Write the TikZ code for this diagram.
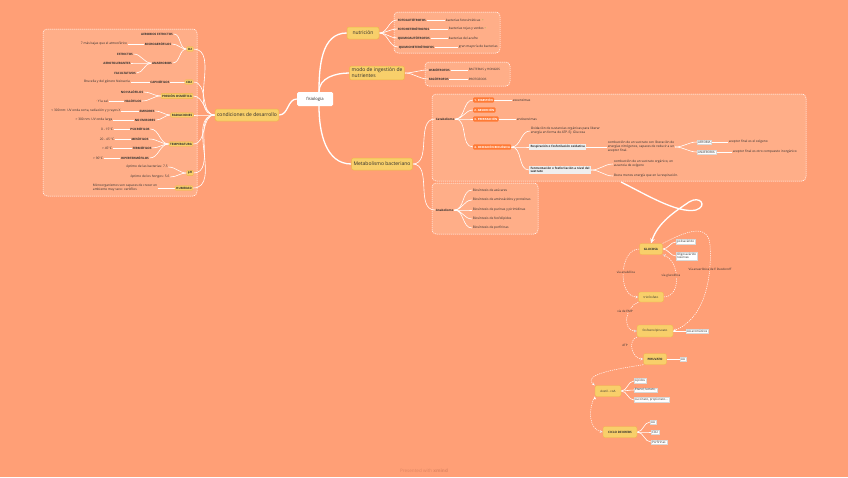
\documentclass[tikz,border=0pt]{standalone}
\usepackage{fontspec}
\setmainfont{Open Sans}
\usetikzlibrary{positioning, arrows.meta}
\definecolor{bgcol}{HTML}{FF9F76}
\definecolor{boxfill}{HTML}{FFAE88}
\definecolor{ymain}{HTML}{F8CF6A}
\definecolor{yedge}{HTML}{EFB64A}
\definecolor{orng}{HTML}{FF7A35}
\definecolor{grey}{HTML}{EFEFEF}
\definecolor{lgrey}{HTML}{D8D8D8}
\definecolor{txt}{HTML}{2E2E2E}
\definecolor{grn}{HTML}{3FAE3F}
\definecolor{footcol}{HTML}{DF8662}
\pgfdeclarelayer{back}
\pgfsetlayers{back,main}
\tikzset{
    topic/.style={
        fill=white,
        rounded corners=1.5pt,
        minimum width=36pt,
        minimum height=14pt,
        inner sep=1pt,
        text=txt,
        font=\fontsize{4.2pt}{5pt}\selectfont
    },
    mainbr/.style={
        fill=ymain,
        draw=yedge,
        line width=0.5pt,
        rounded corners=2pt,
        inner sep=2pt,
        minimum height=12pt,
        align=left,
        text=txt,
        font=\fontsize{5pt}{6pt}\selectfont
    },
    subbr/.style={fill=ymain, draw=yedge, line width=0.3pt, rounded corners=1pt, inner sep=1.2pt, text=txt, font=\fontsize{3pt}{3.5pt}\selectfont\bfseries},
    leaf/.style={inner sep=0.6pt, text=txt, align=left, font=\fontsize{3.2pt}{3.9pt}\selectfont},
    capleaf/.style={inner sep=0.6pt, text=txt, font=\fontsize{3pt}{3.6pt}\selectfont\bfseries},
    stepnode/.style={fill=orng, rounded corners=1pt, inner sep=1.2pt, text=white, font=\fontsize{2.8pt}{3.4pt}\selectfont\bfseries},
    greybox/.style={fill=grey, inner sep=1.3pt, align=left, text=txt, font=\fontsize{3pt}{3.7pt}\selectfont\bfseries},
    whitebox/.style={fill=white, draw=lgrey, line width=0.2pt, inner sep=1pt, align=left, text=txt, font=\fontsize{3pt}{3.7pt}\selectfont},
    dashbox/.style={draw=white, fill=boxfill, dash pattern=on 1.2pt off 0.8pt, line width=0.5pt, rounded corners=4pt},
    trunk/.style={draw=white, line width=1.3pt},
    branch/.style={draw=white, line width=0.6pt},
    flow/.style={draw=white, line width=0.5pt, dash pattern=on 1.2pt off 1pt, -{Stealth[length=3pt, width=2.6pt]}},
    flowlabel/.style={fill=bgcol, inner sep=0.5pt, text=txt, font=\fontsize{3pt}{3.6pt}\selectfont}
}

\begin{document}
\begin{tikzpicture}[x=1pt, y=-1pt]
    % Background and groups
    \begin{pgfonlayer}{back}
        \fill [bgcol] (0,0) rectangle (848,477);
        \draw [dashbox] (43,29) rectangle (197,196);
        \draw [dashbox] (394,12) rectangle (500,53);
        \draw [dashbox] (425,62) rectangle (510,86);
        \draw [dashbox] (432,94) rectangle (806,181);
        \draw [dashbox] (432,183) rectangle (538,234);
    \end{pgfonlayer}
    \useasboundingbox (0,0) rectangle (848,477);

    % Central topics
    \node (fisio) [
        topic
    ] at (315,99) {fisiologia};
    \node (condic) [
        mainbr
    ] at (247,115) {condiciones de desarrollo};
    \node (nutri) [
        mainbr,
        minimum width=32pt
    ] at (363,33) {nutrición};
    \node (modo) [
        mainbr
    ] at (377,73) {modo de ingestión de\\nutrientes};
    \node (metab) [
        mainbr
    ] at (382,164) {Metabolismo bacteriano};

    % Condiciones de desarrollo
    \node (oxig) [subbr] at (190,49) {O2};
    \node (aerob) [capleaf] at (157,34) {AEROBIOS ESTRICTOS};
    \node (micro) [capleaf] at (158,44) {MICROAERÓFILOS};
    \node (microtxt) [leaf] at (104,44) {7 más bajas que el atmosférico};
    \node (anaer) [capleaf] at (162,63) {ANAEROBIOS};
    \node (estr) [capleaf] at (125,54) {ESTRICTOS};
    \node (aerot) [capleaf] at (117,63) {AEROTOLERANTES};
    \node (facult) [capleaf] at (125,73) {FACULTATIVOS};
    \node (co2) [subbr] at (189,82) {CO2};
    \node (capno) [capleaf] at (160,82) {CAPNÓFILOS};
    \node (capnotxt) [leaf] at (107,82) {Brucella y del género Neisseria};
    \node (presion) [subbr] at (177,96) {PRESIÓN OSMÓTICA};
    \node (nohalo) [capleaf] at (132,92) {NO HALÓFILOS};
    \node (halo) [capleaf] at (133,101) {HALÓFILOS};
    \node (halotxt) [leaf] at (102,101) {\textcolor{orng}{\textbullet}\,Y la sal};
    \node (radia) [subbr] at (182,115) {RADIACIONES};
    \node (emis) [capleaf] at (147,111) {EMISORES};
    \node (emistxt) [leaf] at (86,111) {< 300 nm: UV onda corta, radiación γ y rayos X};
    \node (noemis) [capleaf] at (145,120) {NO EMISORES};
    \node (noemistxt) [leaf] at (94,120) {> 300 nm: UV onda larga};
    \node (temp) [subbr] at (181,144) {TEMPERATURA};
    \node (psicro) [capleaf] at (140,129) {PSICRÓFILOS};
    \node (psicrotxt) [leaf] at (107,129) {0 - 15°C};
    \node (meso) [capleaf] at (140,139) {MESÓFILOS};
    \node (mesotxt) [leaf] at (107,139) {20 - 45 °C};
    \node (termo) [capleaf] at (142,148) {TERMÓFILOS};
    \node (termotxt) [leaf] at (107,148) {> 45°C};
    \node (hiper) [capleaf] at (135,158) {HIPERTERMÓFILOS};
    \node (hipertxt) [leaf] at (98,158) {> 90°C};
    \node (ph) [subbr] at (190,173) {pH};
    \node (phbact) [leaf] at (147,167) {óptimo de las bacterias: 7.5};
    \node (phhong) [leaf] at (150,177) {óptimo de los hongos: 5-6};
    \node (humed) [subbr] at (184,188) {HUMEDAD};
    \node (humtxt) [leaf] at (125,188) {Microorganismos son capaces de crecer en\\ambiente muy seco: xerófilos};

    % Nutricion
    \node (fotoaut) [capleaf, anchor=west] at (397,20) {FOTOAUTÓTROFOS};
    \node (fotoauttxt) [leaf, anchor=west] at (445,20) {bacterias fotosintéticas \textcolor{ymain}{\textbullet}\textcolor{grn}{\textbullet}};
    \node (fotohet) [capleaf, anchor=west] at (397,29) {FOTOHETERÓTROFOS};
    \node (fotohettxt) [leaf, anchor=west] at (448,29) {bacterias rojas y verdes \textcolor{grn}{\textbullet}\textcolor{ymain}{\textbullet}};
    \node (quimaut) [capleaf, anchor=west] at (397,38) {QUIMIOAUTÓTROFOS};
    \node (quimauttxt) [leaf, anchor=west] at (448,38) {bacterias del azufre \textcolor{ymain}{\textbullet}};
    \node (quimhet) [capleaf, anchor=west] at (398,47) {QUIMIOHETERÓTROFOS};
    \node (quimhettxt) [leaf, anchor=west] at (458,47) {gran mayoría de bacterias};

    % Modo de ingestion
    \node (osmo) [capleaf, anchor=west] at (428,70) {OSMÓTROFOS};
    \node (osmotxt) [capleaf, font=\fontsize{3pt}{3.6pt}\selectfont, anchor=west] at (468,70) {BACTERIAS y HONGOS};
    \node (fago) [capleaf, anchor=west] at (428,79) {FAGÓTROFOS};
    \node (fagotxt) [capleaf, font=\fontsize{3pt}{3.6pt}\selectfont, anchor=west] at (468,79) {PROTOZOOS};

    % Catabolismo
    \node (catab) [capleaf, anchor=west] at (435,119) {Catabolismo};
    \node (dig) [stepnode, anchor=west] at (473,100) {1. DIGESTIÓN};
    \node (digtxt) [leaf, anchor=west] at (512,100) {exoenzimas};
    \node (abs) [stepnode, anchor=west] at (473,110) {2. ABSORCIÓN};
    \node (prep) [stepnode, anchor=west] at (473,119) {3. PREPARACIÓN};
    \node (preptxt) [leaf, anchor=west] at (516,119) {endoenzimas};
    \node (oxid) [stepnode, anchor=west] at (473,147) {4. OXIDACIÓN BIOLÓGICA};
    \node (oxidtxt) [leaf, anchor=west] at (530,131) {Oxidación de sustancias orgánicas para liberar\\energía en forma de ATP. Ej: Glucosa};
    \node (resp) [greybox, anchor=west] at (529,147) {Respiración o fosforilación oxidativa};
    \node (resptxt) [leaf, anchor=west] at (607,147) {combustión de un sustrato con liberación de\\energías nitrógenos, capaces de reducir a un\\aceptor final.};
    \node (aerobia) [whitebox, anchor=west] at (697,142) {AEROBIA};
    \node (aerobiatxt) [leaf, anchor=west] at (728,142) {aceptor final es el oxígeno};
    \node (anaerobia) [whitebox, anchor=west] at (697,152) {ANAEROBIA};
    \node (anaerobiatxt) [leaf, anchor=west] at (732,152) {aceptor final es otro compuesto inorgánico};
    \node (ferm) [greybox, anchor=west] at (529,170) {Fermentación o fosforilación a nivel del\\sustrato};
    \node (fermtxt) [leaf, anchor=west] at (613,164) {combustión de un sustrato orgánico, en\\ausencia de oxígeno};
    \node (fermtxtb) [leaf, anchor=west] at (613,176) {libera menos energía que en la respiración.};

    % Anabolismo
    \node (anab) [capleaf, anchor=west] at (435,210) {Anabolismo};
    \node (bioa) [leaf, anchor=west] at (472,190) {Biosíntesis de azúcares};
    \node (biob) [leaf, anchor=west] at (472,200) {Biosíntesis de aminoácidos y proteínas};
    \node (bioc) [leaf, anchor=west] at (472,210) {Biosíntesis de purinas y pirimidinas};
    \node (biod) [leaf, anchor=west] at (472,219) {Biosíntesis de fosfolípidos};
    \node (bioe) [leaf, anchor=west] at (472,228) {Biosíntesis de porfirinas};

    % Ruta de la glucosa
    \node (gluc) [subbr, minimum width=23pt, minimum height=11pt, rounded corners=2pt] at (651,249) {GLUCOSA};
    \node (polis) [whitebox, anchor=west] at (676,242) {polisacárido};
    \node (oligo) [whitebox, anchor=west] at (676,256) {Oligosacárido\\reservas};
    \node (trio) [subbr, font=\fontsize{3pt}{3.5pt}\selectfont, minimum width=25pt, minimum height=10pt, rounded corners=2pt] at (651,297) {triofosfato};
    \node (fosfo) [subbr, font=\fontsize{3pt}{3.5pt}\selectfont, minimum width=36pt, minimum height=12pt, rounded corners=2pt] at (655,331) {fosfoenolpiruvato};
    \node (aaarom) [whitebox, anchor=west] at (686,331) {AA aromáticos};
    \node (piru) [subbr, minimum width=23pt, minimum height=11pt, rounded corners=2pt] at (655,359) {PIRUVATO};
    \node (aaa) [whitebox, anchor=west] at (680,359) {AA};
    \node (acetil) [subbr, font=\fontsize{3pt}{3.5pt}\selectfont, minimum width=26pt, minimum height=11pt, rounded corners=2pt] at (608,391) {Acetil - coA};
    \node (lip) [whitebox, anchor=west] at (634,381) {Lípidos};
    \node (etan) [whitebox, anchor=west] at (634,390) {Etanol, lactato,};
    \node (succ) [whitebox, anchor=west] at (634,400) {succinato, propionato...};
    \node (krebs) [subbr, minimum width=34pt, minimum height=11pt, rounded corners=2pt] at (620,432) {CICLO DE KREBS};
    \node (aab) [whitebox, anchor=west] at (650,422) {AA};
    \node (cok) [whitebox, anchor=west] at (651,432) {CO2};
    \node (porf) [whitebox, anchor=west] at (651,442) {Porfirinas};
    \coordinate (catbot) at (621,182);

    % Presented with
    \node (foot) [text=footcol, font=\fontsize{4.6pt}{5pt}\selectfont] at (424,471) {Presented with \textbf{xmind}};

    \begin{pgfonlayer}{back}
        % Main branches
        \path [trunk]
            (fisio.west) edge [out=180, in=0] (condic.east)
            ([xshift=4pt]fisio.north) edge [out=90, in=180] (nutri.west)
            ([xshift=4pt]fisio.north) edge [out=90, in=180] (modo.west)
            ([xshift=4pt]fisio.south) edge [out=-90, in=180] (metab.west)
        ;

        % Condiciones de desarrollo
        \path [branch]
            (condic.west) edge [out=180, in=0] (oxig.east)
            (condic.west) edge [out=180, in=0] (co2.east)
            (condic.west) edge [out=180, in=0] (presion.east)
            (condic.west) edge [out=180, in=0] (radia.east)
            (condic.west) edge [out=180, in=0] (temp.east)
            (condic.west) edge [out=180, in=0] (ph.east)
            (condic.west) edge [out=180, in=0] (humed.east)
            (oxig.west) edge [out=180, in=0] (aerob.east)
            (oxig.west) edge [out=180, in=0] (micro.east)
            (oxig.west) edge [out=180, in=0] (anaer.east)
            (micro.west) edge (microtxt.east)
            (anaer.west) edge [out=180, in=0] (estr.east)
            (anaer.west) edge [out=180, in=0] (aerot.east)
            (anaer.west) edge [out=180, in=0] (facult.east)
            (co2.west) edge (capno.east)
            (capno.west) edge (capnotxt.east)
            (presion.west) edge [out=180, in=0] (nohalo.east)
            (presion.west) edge [out=180, in=0] (halo.east)
            (halo.west) edge (halotxt.east)
            (radia.west) edge [out=180, in=0] (emis.east)
            (radia.west) edge [out=180, in=0] (noemis.east)
            (emis.west) edge (emistxt.east)
            (noemis.west) edge (noemistxt.east)
            (temp.west) edge [out=180, in=0] (psicro.east)
            (temp.west) edge [out=180, in=0] (meso.east)
            (temp.west) edge [out=180, in=0] (termo.east)
            (temp.west) edge [out=180, in=0] (hiper.east)
            (psicro.west) edge (psicrotxt.east)
            (meso.west) edge (mesotxt.east)
            (termo.west) edge (termotxt.east)
            (hiper.west) edge (hipertxt.east)
            (ph.west) edge [out=180, in=0] (phbact.east)
            (ph.west) edge [out=180, in=0] (phhong.east)
            (humed.west) edge (humtxt.east)
        ;

        % Nutricion and ingestion
        \path [branch]
            (nutri.east) edge [out=0, in=180] (fotoaut.west)
            (nutri.east) edge [out=0, in=180] (fotohet.west)
            (nutri.east) edge [out=0, in=180] (quimaut.west)
            (nutri.east) edge [out=0, in=180] (quimhet.west)
            (fotoaut.east) edge (fotoauttxt.west)
            (fotohet.east) edge (fotohettxt.west)
            (quimaut.east) edge (quimauttxt.west)
            (quimhet.east) edge (quimhettxt.west)
            (modo.east) edge [out=0, in=180] (osmo.west)
            (modo.east) edge [out=0, in=180] (fago.west)
            (osmo.east) edge (osmotxt.west)
            (fago.east) edge (fagotxt.west)
        ;

        % Metabolismo
        \path [branch]
            (metab.east) edge [out=0, in=180] (catab.west)
            (metab.east) edge [out=0, in=180] (anab.west)
            (catab.east) edge [out=0, in=180] (dig.west)
            (catab.east) edge [out=0, in=180] (abs.west)
            (catab.east) edge [out=0, in=180] (prep.west)
            (catab.east) edge [out=0, in=180] (oxid.west)
            (dig.east) edge (digtxt.west)
            (prep.east) edge (preptxt.west)
            (oxid.east) edge [out=0, in=180] (oxidtxt.west)
            (oxid.east) edge [out=0, in=180] (resp.west)
            (oxid.east) edge [out=0, in=180] (ferm.west)
            (resp.east) edge (resptxt.west)
            (resptxt.east) edge [out=0, in=180] (aerobia.west)
            (resptxt.east) edge [out=0, in=180] (anaerobia.west)
            (aerobia.east) edge (aerobiatxt.west)
            (anaerobia.east) edge (anaerobiatxt.west)
            (ferm.east) edge [out=0, in=180] (fermtxt.west)
            (ferm.east) edge [out=0, in=180] (fermtxtb.west)
            (anab.east) edge [out=0, in=180] (bioa.west)
            (anab.east) edge [out=0, in=180] (biob.west)
            (anab.east) edge [out=0, in=180] (bioc.west)
            (anab.east) edge [out=0, in=180] (biod.west)
            (anab.east) edge [out=0, in=180] (bioe.west)
        ;

        % Glucosa
        \draw [trunk, -{Stealth[length=5pt, width=4.5pt]}] (catbot)
            .. controls (645,194) and (678,214) .. (696,210)
            .. controls (708,206) and (700,195) .. (689,202)
            .. controls (676,211) and (658,222) .. (gluc.north);
        \path [branch]
            (gluc.east) edge [out=0, in=180] (polis.west)
            (gluc.east) edge [out=0, in=180] (oligo.west)
            (fosfo.east) edge (aaarom.west)
            (piru.east) edge (aaa.west)
            (acetil.east) edge [out=0, in=180] (lip.west)
            (acetil.east) edge [out=0, in=180] (etan.west)
            (acetil.east) edge [out=0, in=180] (succ.west)
            (krebs.east) edge [out=0, in=180] (aab.west)
            (krebs.east) edge [out=0, in=180] (cok.west)
            (krebs.east) edge [out=0, in=180] (porf.west)
        ;
        \path [flow]
            (gluc.west) edge [out=180, in=180, looseness=1.1] (trio.west)
            (trio.east) edge [out=0, in=-20, looseness=1.1] (gluc.south east)
            (trio.south west) edge [out=200, in=180, looseness=1.3] (fosfo.west)
            (fosfo.south west) edge [out=200, in=180, looseness=1.2] (piru.west)
            (piru.south west) edge [out=190, in=140, looseness=0.9] (acetil.north west)
            (acetil.south west) edge [out=240, in=170, looseness=1] (krebs.west)
        ;
        \draw [flow] (gluc.north east) .. controls (685,232) and (708,222) .. (710,245)
            .. controls (712,275) and (706,318) .. (fosfo.east);
    \end{pgfonlayer}

    % Flow labels
    \node (lbanab) [flowlabel] at (626,272) {vía anabólica};
    \node (lbgluc) [flowlabel] at (671,276) {vía glucolítica};
    \node (lbentner) [flowlabel] at (710,269) {Vía anaeróbica de E Duodoroff};
    \node (lbemp) [flowlabel] at (625,311) {vía de EMP};
    \node (lbatp) [flowlabel] at (626,345) {ATP \textcolor{ymain}{\textbullet}};
\end{tikzpicture}
\end{document}
